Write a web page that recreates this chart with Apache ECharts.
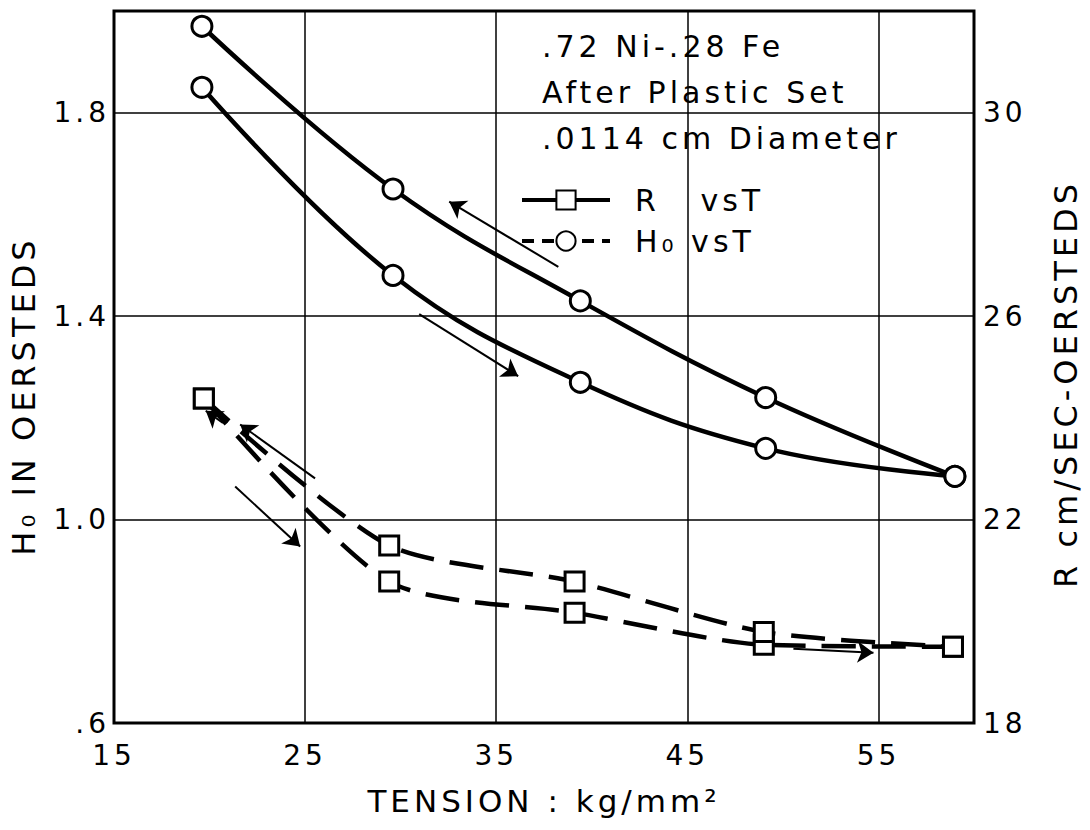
<!DOCTYPE html>
<html>
<head>
<meta charset="utf-8">
<title>Ho and R vs Tension</title>
<script src="https://cdn.jsdelivr.net/npm/echarts@6/dist/echarts.min.js"></script>
<style>
  html, body { margin: 0; padding: 0; background: #fff; }
  /* the drafted lettering is spaced out, svg text picks this up */
  #chart { width: 1090px; height: 830px; letter-spacing: 4px; }
</style>
</head>
<body>
<div id="chart"></div>
<script>
// tension in kg/mm2
var hTension = [19.6, 29.6, 39.4, 49.1, 59.0];
var rTension = [19.7, 29.4, 39.1, 49.0, 58.9];
// Ho in oersteds (left axis), going up in tension and coming back
var hoLoading = [1.85, 1.48, 1.27, 1.14, 1.085];
var hoUnloading = [1.97, 1.65, 1.43, 1.24, 1.085];
// R in cm/sec-oersteds (right axis)
var rLoading = [24.38, 20.78, 20.17, 19.54, 19.50];
var rUnloading = [24.38, 21.49, 20.78, 19.79, 19.50];

var xTicks = [15, 25, 35, 45, 55];
var leftTicks = [0.6, 1.0, 1.4, 1.8];
var leftTickLabels = ['.6', '1.0', '1.4', '1.8'];
var rightTicks = [18, 22, 26, 30];

// direction arrows, [from, to] in (tension, Ho)
var arrows = [
  [[38.25, 1.497], [32.54, 1.625]],
  [[30.97, 1.404], [36.15, 1.282]],
  [[25.52, 1.081], [21.60, 1.187]],
  [[21.34, 1.065], [24.74, 0.947]],
  [[50.55, 0.746], [54.74, 0.738]],
  [[20.70, 1.190], [19.80, 1.214]]
];

var noteLines = ['.72 Ni-.28 Fe', 'After Plastic Set', '.0114 cm Diameter'];

var R_NAME = 'R   vsT';
var HO_NAME = 'H₀ vsT';

var FONT = 'DejaVu Sans';

function zip(xs, ys) {
  return xs.map(function (x, i) { return [x, ys[i]]; });
}

function pickLabel(ticks, labels) {
  return function (v) {
    for (var i = 0; i < ticks.length; i++) {
      if (Math.abs(v - ticks[i]) < 1e-6) return labels[i];
    }
    return '';
  };
}

var chart = echarts.init(document.getElementById('chart'), null, { renderer: 'svg' });

var markStyle = { color: '#fff', borderColor: '#000', borderWidth: 3 };

var option = {
  animation: false,
  backgroundColor: '#fff',
  title: {
    text: noteLines.join('\n'),
    left: 537,
    top: 18,
    textStyle: {
      fontFamily: FONT,
      fontSize: 30,
      fontWeight: 'normal',
      color: '#000',
      lineHeight: 46
    }
  },
  legend: {
    orient: 'vertical',
    left: 520,
    top: 185,
    padding: 0,
    itemWidth: 88,
    itemHeight: 24,
    itemGap: 11,
    selectedMode: false,
    textStyle: {
      fontFamily: FONT,
      fontSize: 30,
      lineHeight: 24,
      color: '#000',
      padding: [0, 0, 0, 20]
    },
    data: [
      { name: R_NAME, lineStyle: { type: 'solid', color: '#000', width: 4 } },
      { name: HO_NAME, lineStyle: { type: [12, 8], color: '#000', width: 4 } }
    ]
  },
  grid: {
    left: 114,
    right: 112,
    top: 11,
    bottom: 107,
    show: true,
    borderColor: '#000',
    borderWidth: 3
  },
  xAxis: {
    type: 'value',
    min: 15,
    max: 60,
    interval: 5,
    axisLine: { show: false },
    axisTick: { show: false },
    splitLine: { show: false },
    axisLabel: {
      formatter: pickLabel(xTicks, xTicks.map(String)),
      margin: 18,
      fontFamily: FONT,
      fontSize: 28,
      color: '#000'
    },
    name: 'TENSION : kg/mm²',
    nameLocation: 'middle',
    nameGap: 62,
    nameTextStyle: { fontFamily: FONT, fontSize: 31, color: '#000' }
  },
  yAxis: [
    {
      type: 'value',
      min: 0.6,
      max: 2.0,
      interval: 0.2,
      axisLine: { show: false },
      axisTick: { show: false },
      splitLine: { show: false },
      axisLabel: {
        formatter: pickLabel(leftTicks, leftTickLabels),
        margin: 4,
        fontFamily: FONT,
        fontSize: 28,
        color: '#000'
      },
      name: 'H₀ IN OERSTEDS',
      nameLocation: 'middle',
      nameRotate: 90,
      nameGap: 74,
      nameTextStyle: { fontFamily: FONT, fontSize: 32, color: '#000', padding: [0, 58, 0, 0] }
    },
    {
      type: 'value',
      position: 'right',
      min: 18,
      max: 32,
      interval: 2,
      axisLine: { show: false },
      axisTick: { show: false },
      splitLine: { show: false },
      axisLabel: {
        formatter: pickLabel(rightTicks, rightTicks.map(String)),
        margin: 9,
        fontFamily: FONT,
        fontSize: 28,
        color: '#000'
      },
      name: 'R cm/SEC-OERSTEDS',
      nameLocation: 'middle',
      nameRotate: 90,
      nameGap: 76,
      nameTextStyle: { fontFamily: FONT, fontSize: 32, color: '#000', padding: [0, 34, 0, 0] }
    }
  ],
  series: [
    {
      name: HO_NAME,
      type: 'line',
      data: zip(hTension, hoLoading),
      smooth: 0.4,
      symbol: 'circle',
      symbolSize: 20,
      z: 3,
      lineStyle: { color: '#000', width: 4.5 },
      itemStyle: markStyle,
      emphasis: { disabled: true },
      markLine: {
        silent: true,
        symbol: ['none', 'none'],
        label: { show: false },
        lineStyle: { color: '#000', width: 1.5, type: 'solid' },
        emphasis: { disabled: true },
        data: xTicks.slice(1).map(function (v) { return { xAxis: v }; })
          .concat(leftTicks.slice(1).map(function (v) { return { yAxis: v }; }))
      }
    },
    {
      name: HO_NAME,
      type: 'line',
      data: zip(hTension, hoUnloading),
      smooth: 0.4,
      symbol: 'circle',
      symbolSize: 20,
      z: 3,
      lineStyle: { color: '#000', width: 4.5 },
      itemStyle: markStyle,
      emphasis: { disabled: true }
    },
    {
      name: R_NAME,
      type: 'line',
      yAxisIndex: 1,
      data: zip(rTension, rLoading),
      smooth: 0.25,
      symbol: 'rect',
      symbolSize: 19,
      z: 3,
      lineStyle: { color: '#000', width: 4.5, type: [34, 16] },
      itemStyle: markStyle,
      emphasis: { disabled: true }
    },
    {
      name: R_NAME,
      type: 'line',
      yAxisIndex: 1,
      data: zip(rTension, rUnloading),
      smooth: 0.25,
      symbol: 'rect',
      symbolSize: 19,
      z: 3,
      lineStyle: { color: '#000', width: 4.5, type: [34, 16] },
      itemStyle: markStyle,
      emphasis: { disabled: true }
    },
    {
      name: 'arrows',
      type: 'lines',
      coordinateSystem: 'cartesian2d',
      xAxisIndex: 0,
      yAxisIndex: 0,
      symbol: ['none', 'arrow'],
      symbolSize: 16,
      z: 4,
      silent: true,
      lineStyle: { color: '#000', width: 2, curveness: 0, opacity: 1 },
      data: arrows.map(function (a) { return { coords: a }; })
    }
  ]
};

chart.setOption(option);
</script>
</body>
</html>
